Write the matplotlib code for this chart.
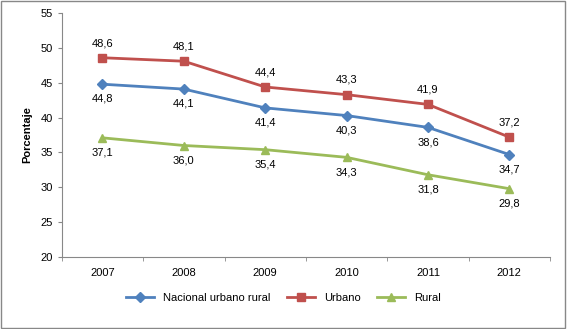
import matplotlib
matplotlib.use("Agg")
import matplotlib.pyplot as plt
from matplotlib.patches import Rectangle

years = ["2007", "2008", "2009", "2010", "2011", "2012"]
nacional = [44.8, 44.1, 41.4, 40.3, 38.6, 34.7]
urbano = [48.6, 48.1, 44.4, 43.3, 41.9, 37.2]
rural = [37.1, 36.0, 35.4, 34.3, 31.8, 29.8]
yticks = [20, 25, 30, 35, 40, 45, 50, 55]

plt.rcParams['font.family'] = ['Liberation Sans', 'DejaVu Sans']

fig = plt.figure(figsize=(5.67, 3.29), dpi=100)
ax = fig.add_axes([0.109, 0.219, 0.861, 0.741])

x = list(range(len(years)))
c_blue, c_red, c_green = "#4F81BD", "#C0504D", "#9BBB59"
ax.plot(x, nacional, color=c_blue, lw=2, marker="D", ms=5, label="Nacional urbano rural")
ax.plot(x, urbano, color=c_red, lw=2, marker="s", ms=6, label="Urbano")
ax.plot(x, rural, color=c_green, lw=2, marker="^", ms=6, label="Rural")

def fmt(v):
    return f"{v:.1f}".replace(".", ",")

for xi, v in zip(x, urbano):
    ax.annotate(fmt(v), (xi, v), xytext=(0, 7), textcoords="offset points",
                ha="center", va="bottom", fontsize=8)
for xi, v in zip(x, nacional):
    ax.annotate(fmt(v), (xi, v), xytext=(0, -7), textcoords="offset points",
                ha="center", va="top", fontsize=8)
for xi, v in zip(x, rural):
    ax.annotate(fmt(v), (xi, v), xytext=(0, -7), textcoords="offset points",
                ha="center", va="top", fontsize=8)

ax.set_xlim(-0.5, len(years) - 0.5)
ax.set_ylim(20, 55)
ax.set_yticks(yticks)
ax.set_xticks(x)
ax.set_xticklabels(years)
ax.set_xticks([i + 0.5 for i in range(-1, len(years))], minor=True)
ax.tick_params(axis="x", which="major", length=0, labelsize=8, pad=8)
ax.tick_params(axis="x", which="minor", length=3, color="#888888")
ax.tick_params(axis="y", labelsize=8, length=3, color="#888888")
for s in ["top", "right"]:
    ax.spines[s].set_visible(False)
for s in ["left", "bottom"]:
    ax.spines[s].set_color("#888888")
ax.set_ylabel("Porcentaje", fontsize=8, fontweight="bold", labelpad=6)

fig.legend(loc="center", bbox_to_anchor=(0.5, 0.095), ncol=3, frameon=False,
           fontsize=8, handlelength=2.5, columnspacing=1.5)

fig.patches.append(Rectangle((0.002, 0.003), 0.995, 0.993, transform=fig.transFigure,
                             fill=False, edgecolor="#888888", lw=1))

fig.savefig("out.png", dpi=100)
